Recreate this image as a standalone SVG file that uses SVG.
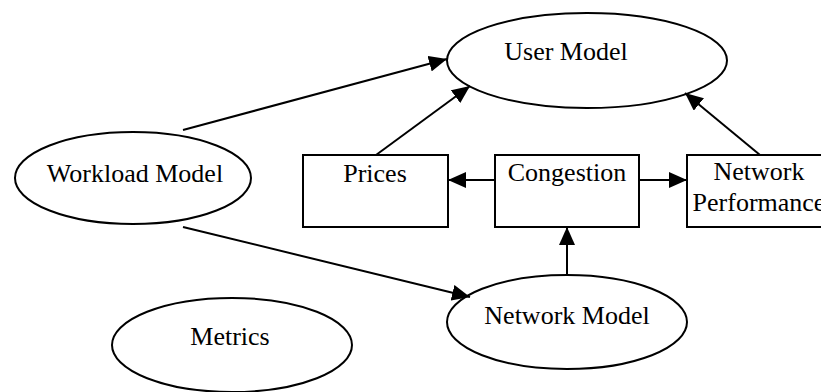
<svg xmlns="http://www.w3.org/2000/svg" width="821" height="392" viewBox="0 0 821 392">
<style>
.shape{fill:#fff;stroke:#000;stroke-width:2}
.lbl{font-family:"Liberation Serif","Times New Roman",serif;font-size:26px;fill:#000;text-anchor:middle}
.edge{fill:none;stroke:#000;stroke-width:2}
</style>
<defs>
<marker id="arr" markerUnits="userSpaceOnUse" markerWidth="20" markerHeight="16" refX="18" refY="8" orient="auto">
<path d="M0,0 L18,8 L0,16 Z" fill="#000"/>
</marker>
</defs>
<rect width="821" height="392" fill="#fff"/>
<g id="user-model"><ellipse class="shape" cx="587" cy="60.5" rx="140" ry="47.5"/><text class="lbl" x="566" y="60">User Model</text></g>
<g id="workload-model"><ellipse class="shape" cx="133" cy="178" rx="118" ry="46"/><text class="lbl" x="135" y="182">Workload Model</text></g>
<g id="prices"><rect class="shape" x="303" y="155" width="145" height="72"/><text class="lbl" x="375" y="182">Prices</text></g>
<g id="congestion"><rect class="shape" x="495" y="155" width="144" height="72"/><text class="lbl" x="567" y="181">Congestion</text></g>
<g id="network-performance"><rect class="shape" x="687" y="155" width="144" height="72"/><text class="lbl" x="759" y="180">Network</text><text class="lbl" x="759" y="211">Performance</text></g>
<g id="network-model"><ellipse class="shape" cx="567" cy="322" rx="120" ry="47"/><text class="lbl" x="567" y="324">Network Model</text></g>
<g id="metrics"><ellipse class="shape" cx="232" cy="345" rx="120" ry="47"/><text class="lbl" x="230" y="345">Metrics</text></g>
<g id="connectors">
<line class="edge" x1="183" y1="130" x2="447" y2="59" marker-end="url(#arr)"/>
<line class="edge" x1="183" y1="227" x2="470" y2="297" marker-end="url(#arr)"/>
<line class="edge" x1="376" y1="155" x2="470" y2="86" marker-end="url(#arr)"/>
<line class="edge" x1="760" y1="155" x2="685" y2="93" marker-end="url(#arr)"/>
<line class="edge" x1="495" y1="180" x2="448" y2="180" marker-end="url(#arr)"/>
<line class="edge" x1="639" y1="180" x2="687" y2="180" marker-end="url(#arr)"/>
<line class="edge" x1="567" y1="275" x2="567" y2="227" marker-end="url(#arr)"/>
</g>
</svg>
